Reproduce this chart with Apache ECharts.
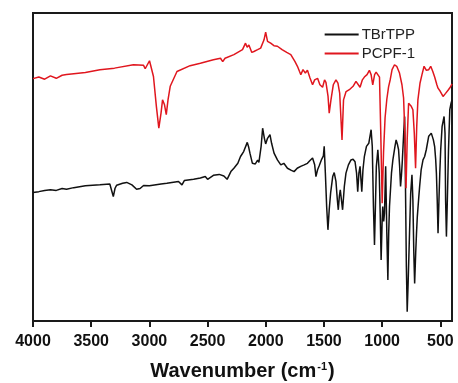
<!DOCTYPE html>
<html>
<head>
<meta charset="utf-8">
<script src="https://cdn.jsdelivr.net/npm/echarts@6/dist/echarts.min.js"></script>
<style>
html,body{margin:0;padding:0;background:#fff;}
#chart{width:458px;height:383px;}
</style>
</head>
<body>
<div id="chart"></div>
<script>
const xTicks = [4000, 3500, 3000, 2500, 2000, 1500, 1000, 500];
const seriesNames = ['TBrTPP', 'PCPF-1'];

// TBrTPP: [wavenumber, transmittance (a.u.)]
const tbrtpp = [
[4000,41.7],[3950,42.0],[3900,42.4],[3850,42.6],[3800,42.4],[3750,43.0],[3712,42.8],[3650,43.3],
[3550,43.9],[3425,44.2],[3340,44.5],[3324,44.2],[3310,40.4],[3295,43.1],[3281,44.1],[3230,44.7],
[3195,45.0],[3150,44.2],[3110,42.8],[3080,43.0],[3050,44.0],[3000,43.9],[2900,44.5],[2850,44.7],
[2750,45.3],[2720,44.2],[2700,45.6],[2620,46.0],[2562,46.4],[2520,46.9],[2500,46.0],[2450,47.3],
[2400,47.6],[2360,47.1],[2332,46.0],[2300,48.5],[2274,49.6],[2240,51.2],[2217,53.4],[2190,55.0],
[2159,58.0],[2148,56.6],[2136,54.5],[2115,51.2],[2090,51.0],[2070,52.2],[2059,51.5],[2040,56.7],
[2027,62.6],[2012,59.3],[2001,57.5],[1985,59.3],[1964,60.5],[1950,57.7],[1929,54.5],[1900,52.3],
[1871,50.7],[1845,51.2],[1814,49.6],[1780,48.9],[1757,48.5],[1730,49.6],[1700,50.2],[1670,50.7],
[1642,51.2],[1620,52.1],[1598,52.9],[1580,50.7],[1569,46.9],[1555,49.1],[1541,50.4],[1520,52.5],
[1505,53.6],[1498,56.7],[1488,48.0],[1477,37.2],[1466,29.6],[1455,36.1],[1443,41.5],[1425,46.9],
[1412,48.2],[1397,45.3],[1385,39.3],[1377,36.1],[1368,40.5],[1360,42.6],[1350,39.3],[1340,36.1],
[1325,43.7],[1311,48.0],[1290,50.7],[1268,52.3],[1250,52.5],[1233,51.7],[1220,48.0],[1210,42.0],
[1200,48.0],[1190,50.2],[1182,45.8],[1175,42.0],[1165,49.1],[1153,53.4],[1135,56.7],[1115,57.7],
[1095,62.1],[1085,56.7],[1075,37.2],[1066,24.7],[1058,37.2],[1050,50.2],[1037,55.6],[1025,48.0],
[1017,35.0],[1009,19.8],[1000,32.8],[995,37.2],[987,32.3],[980,35.0],[970,50.2],[960,28.5],
[951,13.3],[944,28.5],[937,37.2],[920,48.0],[908,52.3],[890,56.7],[880,58.8],[868,57.2],
[859,55.6],[850,50.2],[842,43.7],[835,46.9],[828,51.2],[815,61.0],[807,66.4],[800,44.7],
[792,17.7],[785,3.0],[777,12.2],[765,28.5],[755,41.5],[744,47.5],[736,39.3],[728,22.0],
[721,12.2],[712,22.0],[705,28.5],[698,33.9],[685,40.4],[678,43.7],[665,49.1],[649,52.3],
[635,53.4],[621,55.6],[600,60.0],[578,61.0],[560,58.8],[549,56.6],[540,52.3],[534,48.0],
[527,39.3],[520,28.5],[512,39.3],[505,48.0],[497,55.6],[485,63.2],[468,66.4],[460,61.0],
[455,39.3],[448,27.4],[440,39.3],[430,55.6],[419,68.6],[408,70.7],[400,71.8]
];

// PCPF-1: [wavenumber, transmittance (a.u.)]
const pcpf1 = [
[4000,78.7],[3950,79.2],[3900,78.5],[3850,79.6],[3800,78.8],[3750,79.8],[3712,80.0],[3650,80.3],
[3550,80.7],[3425,81.6],[3300,82.1],[3137,83.2],[3050,83.0],[3036,81.9],[2999,84.5],[2965,79.4],
[2940,69.7],[2919,62.6],[2900,67.5],[2887,71.8],[2870,70.2],[2855,67.0],[2840,71.8],[2821,76.2],
[2763,81.0],[2650,82.9],[2562,83.7],[2450,84.8],[2389,85.3],[2370,84.2],[2350,85.3],[2274,86.5],
[2200,88.1],[2174,90.2],[2160,88.9],[2145,89.6],[2120,87.2],[2102,87.5],[2070,88.1],[2044,88.6],
[2015,91.3],[2001,93.8],[1985,90.8],[1958,90.2],[1930,89.4],[1900,89.2],[1860,88.1],[1820,87.2],
[1785,86.5],[1750,84.3],[1728,82.7],[1710,81.0],[1699,80.0],[1680,81.6],[1660,80.5],[1642,81.4],
[1620,78.9],[1598,76.7],[1580,78.3],[1555,78.8],[1535,76.7],[1512,75.9],[1495,78.3],[1483,77.5],
[1465,72.9],[1455,67.5],[1440,71.8],[1420,76.7],[1397,78.3],[1380,77.2],[1365,74.0],[1345,58.8],
[1332,71.8],[1310,74.5],[1282,75.1],[1250,76.2],[1225,77.8],[1210,77.2],[1190,75.9],[1170,78.3],
[1153,79.2],[1130,80.0],[1110,81.4],[1095,80.0],[1081,76.7],[1065,80.0],[1052,80.8],[1035,80.3],
[1023,79.2],[1012,61.0],[1000,38.2],[988,55.0],[975,66.0],[960,72.0],[945,76.0],[930,78.5],
[915,81.6],[894,83.2],[875,82.7],[851,80.5],[830,76.7],[816,72.4],[805,61.0],[795,43.1],
[785,58.8],[773,70.7],[762,71.3],[750,69.7],[736,68.6],[724,61.0],[713,49.6],[703,63.2],
[693,71.8],[675,77.2],[658,80.0],[640,82.7],[620,81.4],[600,81.6],[583,82.7],[565,81.0],
[549,79.2],[530,76.7],[520,75.6],[500,74.5],[477,72.9],[455,73.9],[434,74.9],[415,75.9],[400,77.0]
];

const chart = echarts.init(document.getElementById('chart'), null, {renderer: 'canvas'});
const font = 'Liberation Sans, Arial, sans-serif';
chart.setOption({
  animation: false,
  backgroundColor: '#fff',
  grid: {left: 33, right: 6, top: 13, bottom: 62, outerBoundsMode: 'none', containLabel: false, show: true, borderColor: '#1a1a1a', borderWidth: 2, backgroundColor: 'transparent'},
  legend: {
    data: seriesNames,
    orient: 'vertical',
    right: 38, top: 22,
    itemWidth: 34, itemHeight: 2, itemGap: 4,
    icon: 'rect',
    textStyle: {fontFamily: font, fontSize: 15, color: '#222', padding: [0,0,0,-2]}
  },
  xAxis: {
    type: 'value', min: 400, max: 4000, inverse: true,
    name: 'Wavenumber (cm{sup|-1})',
    nameLocation: 'middle', nameGap: 40,
    nameTextStyle: {
      fontFamily: font, fontSize: 20, fontWeight: 'bold', color: '#111',
      rich: {sup: {fontFamily: font, fontSize: 11, fontWeight: 'bold', color: '#111', verticalAlign: 'top', padding: [0, 1, 9, 1]}}
    },
    axisLine: {show: true, lineStyle: {color: '#1a1a1a', width: 2}},
    axisTick: {show: true, inside: false, length: 6, lineStyle: {color: '#1a1a1a', width: 2}, customValues: xTicks},
    axisLabel: {show: true, margin: 13, fontFamily: font, fontSize: 16, fontWeight: 'bold', color: '#111', customValues: xTicks, formatter: function (v) { return String(v); }},
    splitLine: {show: false}
  },
  yAxis: {
    type: 'value', min: 0, max: 100,
    axisLine: {show: false}, axisTick: {show: false}, axisLabel: {show: false}, splitLine: {show: false}
  },
  series: [
    {name: seriesNames[0], type: 'line', data: tbrtpp, symbol: 'none', color: '#111', lineStyle: {color: '#111', width: 1.5}},
    {name: seriesNames[1], type: 'line', data: pcpf1, symbol: 'none', color: '#e0161e', lineStyle: {color: '#e0161e', width: 1.5}}
  ]
});
</script>
</body>
</html>
